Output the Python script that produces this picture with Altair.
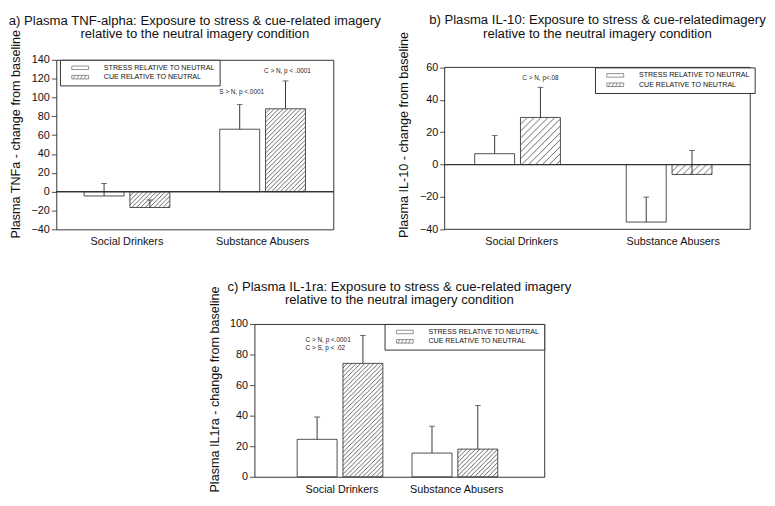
import base64
import altair as alt
import pandas as pd

FONT = "Liberation Sans"

groups = ["Social Drinkers", "Substance Abusers"]
series = ["STRESS RELATIVE TO NEUTRAL", "CUE RELATIVE TO NEUTRAL"]

# panel a: Plasma TNF-alpha (mean change, upper error bar length)
tnf_stress = [-4.6, 66.3]
tnf_stress_err = [13.3, 26.1]
tnf_cue = [-16.8, 88.0]
tnf_cue_err = [8.0, 29.6]

# panel b: Plasma IL-10
il10_stress = [6.7, -35.5]
il10_stress_err = [11.2, 15.4]
il10_cue = [29.1, -6.1]
il10_cue_err = [18.6, 14.8]

# panel c: Plasma IL-1ra
il1ra_stress = [24.5, 15.5]
il1ra_stress_err = [14.6, 17.6]
il1ra_cue = [74.2, 18.1]
il1ra_cue_err = [18.3, 28.5]

# annotations: (group, series, y value, text)
ann_a = [("Substance Abusers", series[0], 105.3, "S > N, p <.0001"),
         ("Substance Abusers", series[1], 128.4, "C > N, p < .0001")]
ann_b = [("Social Drinkers", series[1], 53.5, "C > N, p<.08")]
ann_c = [("Social Drinkers", series[0], 89.7, "C > N, p <.0001"),
         ("Social Drinkers", series[0], 84.3, "C > S, p < .02")]

titles = {
    "a": ["a) Plasma TNF-alpha: Exposure to stress & cue-related imagery",
          "relative to the neutral imagery condition"],
    "b": ["b) Plasma IL-10: Exposure to stress & cue-relatedimagery",
          "relative to the neutral imagery condition"],
    "c": ["c) Plasma IL-1ra: Exposure to stress & cue-related imagery",
          "relative to the neutral imagery condition"],
}
ytitles = {
    "a": "Plasma TNFa - change from baseline",
    "b": "Plasma IL-10 - change from baseline",
    "c": "Plasma IL1ra - change from baseline",
}


def make_df(stress, stress_err, cue, cue_err):
    rows = []
    for i, g in enumerate(groups):
        rows.append({"group": g, "series": series[0], "value": stress[i], "top": stress[i] + stress_err[i]})
        rows.append({"group": g, "series": series[1], "value": cue[i], "top": cue[i] + cue_err[i]})
    return pd.DataFrame(rows)


def make_ann(ann):
    return pd.DataFrame([{"group": g, "series": s, "value": v, "label": t} for g, s, v, t in ann])


def hatch_uri(step):
    s = step
    svg = (
        '<svg xmlns="http://www.w3.org/2000/svg" width="100%" height="100%">'
        f'<defs><pattern id="h" width="{s}" height="{s}" patternUnits="userSpaceOnUse">'
        f'<path d="M-1,1 L1,-1 M0,{s} L{s},0 M{s-1},{s+1} L{s+1},{s-1}" '
        'stroke="#222" stroke-width="0.7" fill="none"/></pattern></defs>'
        '<rect width="100%" height="100%" fill="url(#h)"/></svg>'
    )
    return "data:image/svg+xml;base64," + base64.b64encode(svg.encode()).decode()


RECT_PATH = "M-2.85,-0.6H2.85V0.6H-2.85Z"
HATCH_PATH = ("M-2.85,-0.6H2.85V0.6H-2.85Z M-2.3,0.6L-1.7,-0.6 M-1.1,0.6L-0.5,-0.6 "
              "M0.1,0.6L0.7,-0.6 M1.3,0.6L1.9,-0.6")
NBSP = "\u00a0" * 11


def panel(key, df, ann, cfg):
    xaxis = alt.Axis(title=None, labelAngle=0, ticks=False, domain=False,
                     labelFontSize=11, labelPadding=6.5, labelColor="#111", labelFont=FONT)
    xscale = alt.Scale(domain=groups, paddingInner=cfg["pi"], paddingOuter=cfg["po"])
    xenc = alt.X("group:N", sort=groups, scale=xscale, axis=xaxis)
    xoff = alt.XOffset("series:N", sort=series,
                       scale=alt.Scale(domain=series, paddingInner=cfg["pi2"], paddingOuter=0))
    yscale = alt.Scale(domain=cfg["domain"], nice=False, zero=False)
    yaxis = alt.Axis(title=ytitles[key], values=cfg["ticks"], grid=False, domain=False,
                     tickSize=5, tickColor="#222", tickWidth=0.8, labelOverlap=False,
                     labelFontSize=11, labelPadding=2, labelColor="#111", labelFont=FONT,
                     titleFontSize=12.8, titleFontWeight="normal", titleFont=FONT,
                     titleColor="#111", titlePadding=cfg["tp"], titleY=cfg["ty"])

    def Y(field):
        return alt.Y(field, scale=yscale, axis=yaxis, title=ytitles[key])

    base = alt.Chart(df).encode(x=xenc, xOffset=xoff)
    bars = base.mark_bar(fill="white", stroke="#222", strokeWidth=0.8).encode(
        y=Y("value:Q"), y2=alt.datum(0))
    hatch = base.transform_filter(alt.datum.series == series[1]).mark_image(aspect=False).encode(
        y=Y("value:Q"), y2=alt.datum(0), url=alt.value(hatch_uri(cfg["hs"])))
    err = base.mark_rule(color="#222", strokeWidth=0.9).encode(y=Y("value:Q"), y2="top:Q")
    cap = base.mark_tick(orient="horizontal", size=6, thickness=0.9, color="#222").encode(
        y=Y("top:Q"))
    layers = [bars, hatch, err, cap]
    if cfg["zero"]:
        layers.append(alt.Chart(df).mark_rule(color="#333", strokeWidth=0.9).encode(
            y=alt.Y(datum=0, scale=yscale, axis=yaxis, title=ytitles[key])))
    if cfg.get("box"):
        lo, hi = cfg["box"]
        layers.append(alt.Chart(pd.DataFrame({"v": [0]})).mark_rect(
            fill="white", fillOpacity=0, stroke="#333", strokeWidth=1).encode(
            x=alt.value(0), x2=alt.value("width"),
            y=alt.Y(datum=hi, scale=yscale, axis=yaxis, title=ytitles[key]),
            y2=alt.datum(lo)))
    adf = make_ann(ann)
    txt = alt.Chart(adf).mark_text(fontSize=6.5, font=FONT, color="#222", align=cfg["talign"],
                                   dx=cfg["tdx"], baseline="middle").encode(
        x=xenc, xOffset=xoff, y=Y("value:Q"), text="label:N")
    layers.append(txt)
    leg_kw = dict(title=None, padding=4.5, strokeColor="#333", fillColor="white",
                  labelFont=FONT, labelFontSize=7.2, labelColor="#111",
                  labelExpr="datum.label + '" + NBSP + "'",
                  symbolSize=36, symbolStrokeColor="#222", symbolStrokeWidth=0.7,
                  symbolFillColor="white", symbolOffset=12.45, labelOffset=20.4,
                  rowPadding=1.5)
    if cfg["legend"] == "right":
        leg = alt.Legend(orient="top-right", offset=0, **leg_kw)
    else:
        lx, ly = cfg["legend"]
        leg = alt.Legend(orient="none", legendX=lx, legendY=ly, **leg_kw)
    legend_layer = alt.Chart(df).transform_filter("false").mark_point(
        filled=False, color="#222", strokeWidth=0.7).encode(
        shape=alt.Shape("series:N", sort=series,
                        scale=alt.Scale(domain=series, range=[RECT_PATH, HATCH_PATH]),
                        legend=leg))
    layers.append(legend_layer)
    view = alt.ViewBackground(stroke="transparent") if cfg.get("box") else \
        alt.ViewBackground(stroke="#333", strokeWidth=1)
    return alt.layer(*layers).properties(
        width=cfg["w"], height=cfg["h"], view=view,
        title=alt.TitleParams(text=titles[key], fontSize=13.3, font=FONT, fontWeight="normal",
                              anchor="middle", offset=cfg["to"], lineHeight=14, color="#111"),
    )


pa = panel("a", make_df(tnf_stress, tnf_stress_err, tnf_cue, tnf_cue_err), ann_a,
           dict(pi=0.368, po=0.205, pi2=0.128, domain=[-40, 140], ticks=list(range(-40, 141, 20)),
                tp=9, ty=75, hs=4.5, zero=True, talign="center", tdx=2, legend=(3.7, 0),
                w=281, h=172, to=-11.6))
pb = panel("b", make_df(il10_stress, il10_stress_err, il10_cue, il10_cue_err), ann_b,
           dict(pi=0.38, po=0.198, pi2=0.137, domain=[-40, 64.7], ticks=list(range(-40, 61, 20)),
                tp=9, ty=75.7, hs=7, zero=True, talign="center", tdx=0, legend=(152.5, 7.7),
                box=(-40, 60), w=310, h=172, to=-8.6))
pc = panel("c", make_df(il1ra_stress, il1ra_stress_err, il1ra_cue, il1ra_cue_err), ann_c,
           dict(pi=0.221, po=0.372, pi2=0.103, domain=[0, 100], ticks=list(range(0, 101, 20)),
                tp=8, ty=66, hs=4.5, zero=False, talign="left", tdx=-11.7, legend="right",
                w=294, h=155, to=-21.1))

spacer = alt.Chart(pd.DataFrame({"s": [0]})).mark_point(opacity=0).properties(
    width=190, height=1, view=alt.ViewBackground(stroke="transparent"))

res = dict(x="independent", y="independent", shape="independent")
top = alt.hconcat(pa, pb, spacing=113, bounds="flush").resolve_scale(**res).resolve_legend(shape="independent")
bottom = alt.hconcat(spacer, pc, spacing=11, bounds="flush").resolve_scale(**res).resolve_legend(shape="independent")
chart = alt.vconcat(top, bottom, spacing=32).resolve_scale(**res).resolve_legend(shape="independent").properties(
    padding={"left": 0, "top": 0, "right": 0, "bottom": 0}
).configure(font=FONT)

chart.save("out.html", embed_options={"renderer": "svg", "actions": False})
